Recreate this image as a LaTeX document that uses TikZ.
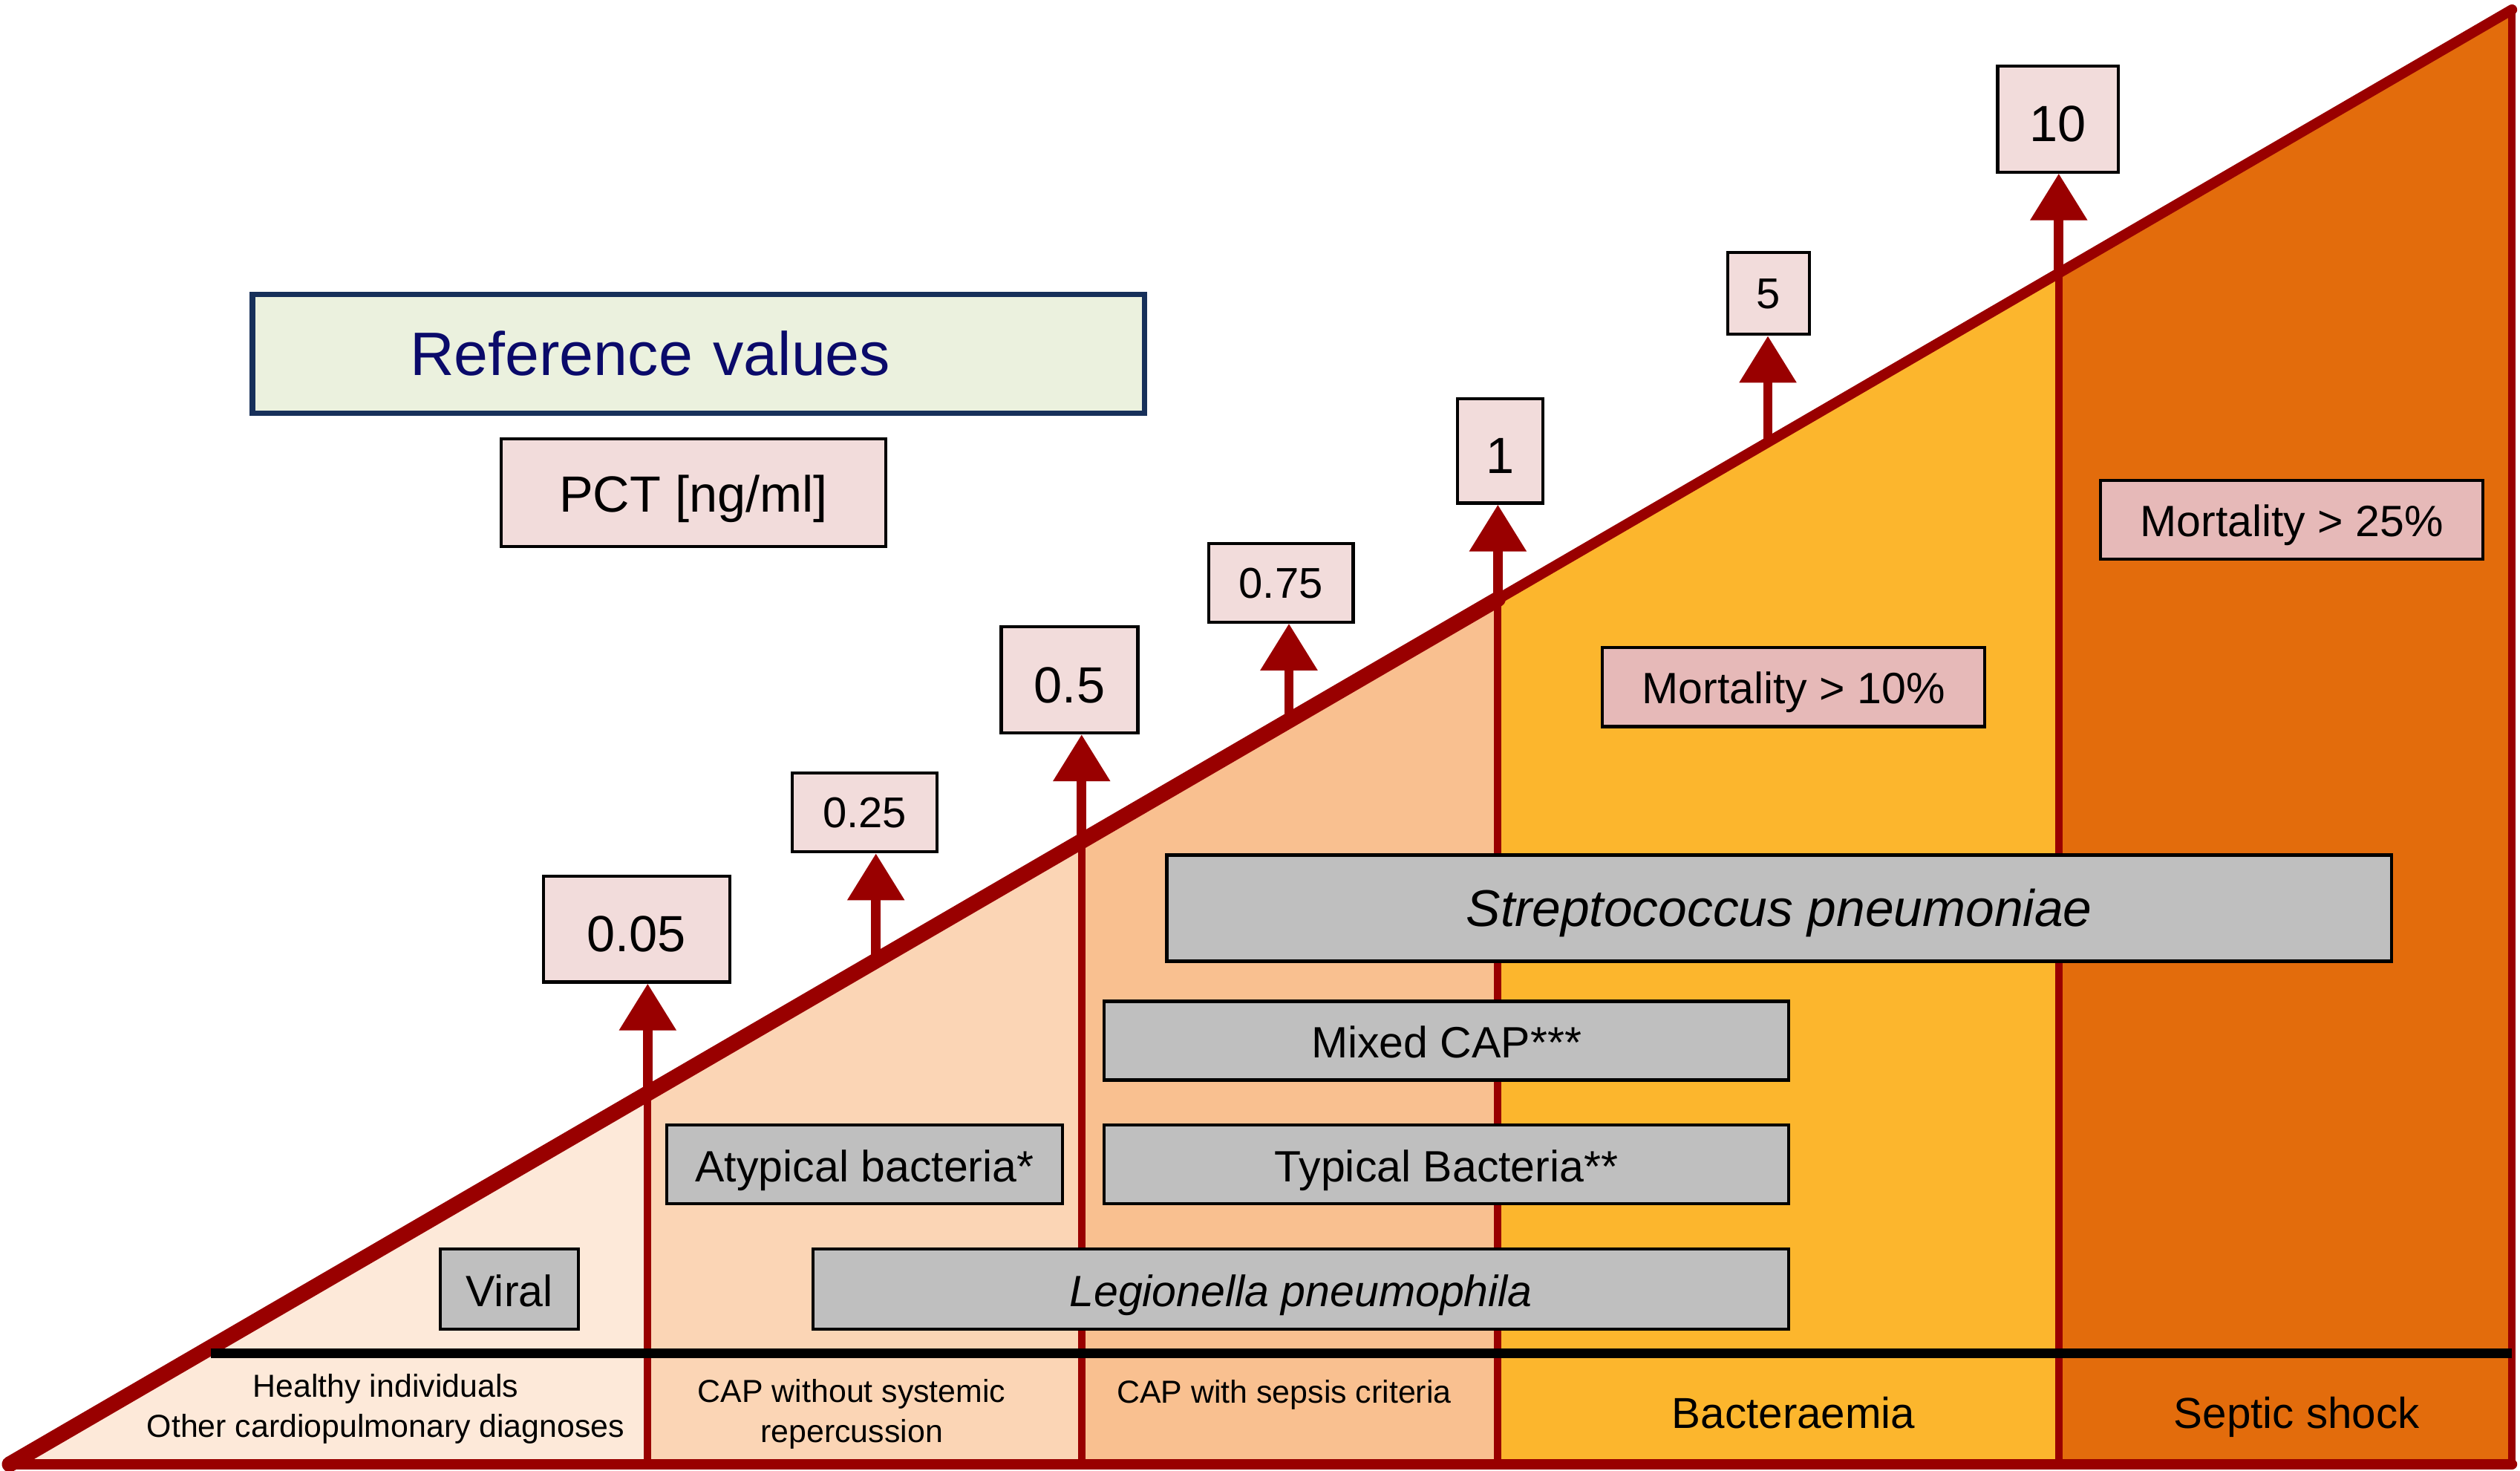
\documentclass[tikz,border=0pt]{standalone}
\usepackage{fontspec}
\setmainfont{Liberation Sans}
\usetikzlibrary{arrows.meta}

\definecolor{darkred}{HTML}{990000}
\definecolor{regA}{HTML}{FDE9D9}
\definecolor{regB}{HTML}{FBD5B5}
\definecolor{regC}{HTML}{F9C090}
\definecolor{regD}{HTML}{FCB62D}
\definecolor{regE}{HTML}{E36C0C}
\definecolor{valpink}{HTML}{F2DCDB}
\definecolor{mortpink}{HTML}{E6B9B8}
\definecolor{boxgrey}{HTML}{BFBFBF}
\definecolor{refgreen}{HTML}{EBF1DE}
\definecolor{refnavy}{HTML}{17305A}
\definecolor{reftext}{HTML}{0A0A6A}

% one pixel of the drawing
\newcommand{\pxu}{0.021645cm}

\tikzset{
    sepline/.style={draw=darkred, line width=2.8pt},
    valarrow/.style={draw=darkred, line width=3.6pt, -{Triangle[width=7.4mm,length=6.3mm]}},
    boxsize/.style 2 args={minimum width=#1*\pxu, minimum height=#2*\pxu},
    valbox/.style={draw=black, line width=1.2pt, fill=valpink, inner sep=0pt},
    bigval/.style={valbox, text height=19.5pt, text depth=2pt, font=\fontsize{19.5}{20}\selectfont},
    smallval/.style={valbox, text height=13.3pt, text depth=1.7pt, font=\fontsize{16.5}{17}\selectfont},
    mortbox/.style={draw=black, line width=1.2pt, fill=mortpink, inner sep=0pt, text height=14.3pt, text depth=1.7pt, font=\fontsize{16.8}{17}\selectfont},
    greybox/.style={draw=black, line width=1.2pt, fill=boxgrey, inner sep=0pt, text height=14.8pt, text depth=1.7pt, font=\fontsize{16.8}{17}\selectfont},
    stagetext/.style={align=center, font=\fontsize{12.2}{15.4}\selectfont},
    stagebig/.style={text height=12.1pt, text depth=0pt, font=\fontsize{16.6}{17}\selectfont}
}

\begin{document}
\begin{tikzpicture}[x=\pxu, y=-\pxu]
    \useasboundingbox (0,0) rectangle (1568,915);

    \coordinate (bl) at (6,911);
    \coordinate (tr) at (1563,6);
    \coordinate (br) at (1563,911);

    % coloured stages under the slope
    \foreach \xa/\xb/\col in {6/403/regA, 403/673/regB, 673/932/regC, 932/1281/regD, 1281/1563/regE}
        \fill[\col] (\xa,911) -- (\xb,911) -- (\xb,{911-0.58125*(\xb-6)}) -- (\xa,{911-0.58125*(\xa-6)}) -- cycle;

    \foreach \x/\n in {403/1, 673/2, 932/3, 1281/4} {
        \coordinate (b\n) at (\x,911);
        \coordinate (h\n) at (\x,{911-0.58125*(\x-6)});
    }
    \foreach \x/\n in {545/1, 802/2, 1100/3}
        \coordinate (s\n) at (\x,{911-0.58125*(\x-6)});

    \foreach \n in {1,...,4}
        \draw[sepline] (b\n) -- (h\n);

    \draw[darkred, line width=4pt, line cap=round] (bl) -- (tr);
    \draw[darkred, line width=6pt, line cap=round] (bl) -- (h3);
    \draw[sepline] (tr) -- (br);
    \draw[darkred, line width=4pt, line cap=round] (bl) -- (br);
    \draw[black, line width=3.5pt] (131,842) -- (1563,842);

    % reference values
    \node[draw=refnavy, line width=2pt, fill=refgreen, text=reftext, text width=7.77cm, align=left,
          inner xsep=98*\pxu, minimum height=74*\pxu, font=\fontsize{23.5}{24}\selectfont] (ref) at (434.5,220) {Reference values};
    \node[valbox, boxsize={239}{67}, text height=17pt, text depth=2pt, font=\fontsize{19.5}{20}\selectfont] (pct) at (431.5,306.5) {PCT [ng/ml]};

    \node[bigval, boxsize={116}{66}] (v005) at (396,578) {0.05};
    \node[smallval, boxsize={90}{49}] (v025) at (538,505.5) {0.25};
    \node[bigval, boxsize={85}{66}] (v05) at (665.5,423) {0.5};
    \node[smallval, boxsize={90}{49}] (v075) at (797,362.5) {0.75};
    \node[bigval, boxsize={53}{65}] (v1) at (933.5,280.5) {1};
    \node[smallval, boxsize={51}{51}] (v5) at (1100.5,182.5) {5};
    \node[bigval, boxsize={75}{66}] (v10) at (1280.5,74) {10};

    \foreach \p/\v in {h1/v005, s1/v025, h2/v05, s2/v075, h3/v1, s3/v5, h4/v10}
        \draw[valarrow] (\p) -- (\p |- \v.south);

    \node[mortbox, boxsize={238}{49}] (mort25) at (1426,323.5) {Mortality > 25\%};
    \node[mortbox, boxsize={238}{49}] (mort10) at (1116,427.5) {Mortality > 10\%};

    \node[greybox, boxsize={762}{66}, text height=16.1pt, text depth=2pt, font=\fontsize{19.8}{20}\selectfont\itshape] (strep) at (1107,565) {Streptococcus pneumoniae};
    \node[greybox, boxsize={426}{49}] (mixed) at (900,647.5) {Mixed CAP***};
    \node[greybox, boxsize={426}{49}] (typical) at (900,724.5) {Typical Bacteria**};
    \node[greybox, boxsize={246}{49}] (atyp) at (538,724.5) {Atypical bacteria*};
    \node[greybox, boxsize={86}{50}] (viral) at (317,802) {Viral};
    \node[greybox, boxsize={607}{50}, font=\fontsize{16.8}{17}\selectfont\itshape] (legion) at (809.5,802) {Legionella pneumophila};

    % stages
    \node[stagetext] (healthy) at (240,876.5) {Healthy individuals\\Other cardiopulmonary diagnoses};
    \node[stagetext] (capno) at (530,880) {CAP without systemic\\repercussion};
    \node[stagetext] (capsep) at (799,868) {CAP with sepsis criteria};
    \node[stagebig] (bact) at (1116,879) {Bacteraemia};
    \node[stagebig] (septic) at (1429,879) {Septic shock};
\end{tikzpicture}
\end{document}
